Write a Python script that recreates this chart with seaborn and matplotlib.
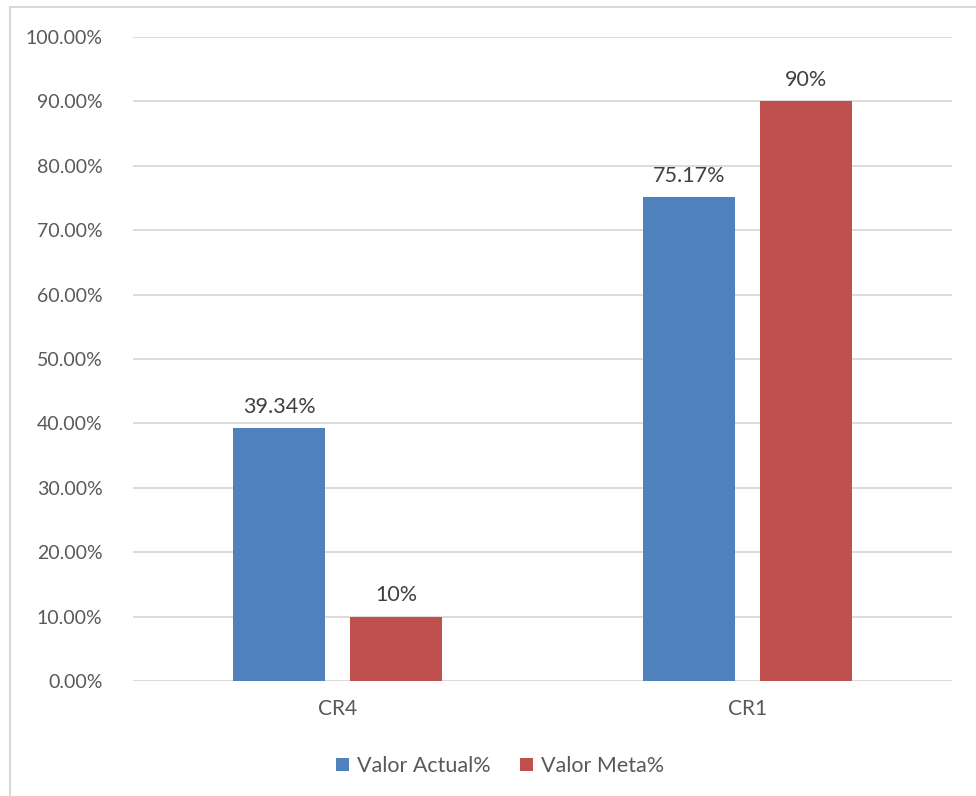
import matplotlib
matplotlib.use("Agg")
import matplotlib.pyplot as plt
from matplotlib.lines import Line2D
from matplotlib.patches import Patch
from matplotlib.ticker import FuncFormatter
import pandas as pd
import seaborn as sns

categories = ["CR4", "CR1"]
series_names = ["Valor Actual%", "Valor Meta%"]
valor_actual = [39.34, 75.17]
valor_meta = [10, 90]
actual_labels = ["39.34%", "75.17%"]
meta_labels = ["10%", "90%"]
y_ticks = [0, 10, 20, 30, 40, 50, 60, 70, 80, 90, 100]

colors = {"Valor Actual%": "#4f81bd", "Valor Meta%": "#c0504d"}
text_color = "#595959"
grid_color = "#d9d9d9"

df = pd.DataFrame({
    "categoria": categories * 2,
    "serie": [series_names[0]] * 2 + [series_names[1]] * 2,
    "valor": valor_actual + valor_meta,
})

sns.set_theme(style="white")
plt.rcParams["font.family"] = ["Lato", "DejaVu Sans"]

W, H = 976, 796
fig = plt.figure(figsize=(W / 100, H / 100), dpi=100)
ax = fig.add_axes([133 / W, (H - 681) / H, (952 - 133) / W, (681 - 37) / H])

sns.barplot(
    data=df, x="categoria", y="valor", hue="serie", order=categories,
    hue_order=series_names, palette=colors, width=0.57, gap=0.21,
    dodge=True, saturation=1, ax=ax, legend=False, errorbar=None,
    linewidth=0,
)

ax.set_xlim(-0.5, 1.5)
ax.set_ylim(0, 100)
ax.set_yticks(y_ticks)
ax.yaxis.set_major_formatter(FuncFormatter(lambda v, _: f"{v:.2f}%"))
ax.grid(axis="y", color=grid_color, linewidth=1.3)
ax.set_axisbelow(True)
for s in ax.spines.values():
    s.set_visible(False)
ax.tick_params(axis="both", length=0, labelcolor=text_color)
ax.tick_params(axis="y", pad=22, labelsize=14)
ax.tick_params(axis="x", pad=13, labelsize=15)
ax.set_xlabel("")
ax.set_ylabel("")

# value labels above each bar
for container, labels in zip(ax.containers, [actual_labels, meta_labels]):
    ax.bar_label(container, labels=labels, padding=8, fontsize=15.5,
                 color="#404040")

handles = [Patch(facecolor=colors[n], edgecolor="none") for n in series_names]
fig.legend(handles, series_names, loc="center",
           bbox_to_anchor=(500 / W, (H - 766) / H),
           ncol=2, frameon=False, fontsize=15.5, labelcolor=text_color,
           handlelength=0.6, handleheight=0.6, handletextpad=0.35,
           columnspacing=1.4)

# chart frame
fig.add_artist(Line2D([10 / W, 10 / W], [0, (H - 7) / H], color=grid_color,
                      linewidth=1.5, transform=fig.transFigure))
fig.add_artist(Line2D([10 / W, 1], [(H - 7) / H, (H - 7) / H], color=grid_color,
                      linewidth=1.5, transform=fig.transFigure))

fig.savefig("out.png", dpi=100, facecolor="white")
